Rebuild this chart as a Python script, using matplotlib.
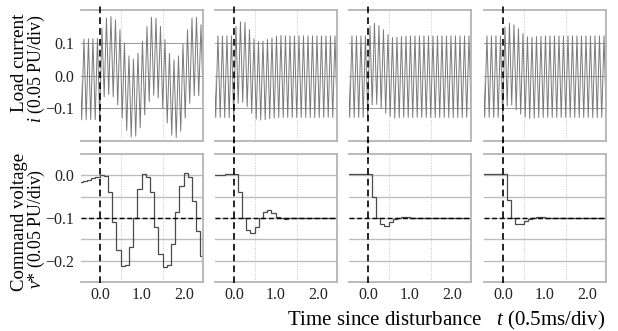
import numpy as np
import matplotlib
matplotlib.use("Agg")
import matplotlib.pyplot as plt

plt.rcParams['font.family'] = ['Liberation Serif', 'DejaVu Serif']
plt.rcParams['mathtext.fontset'] = 'custom'
plt.rcParams['mathtext.rm'] = 'Liberation Serif'
plt.rcParams['mathtext.it'] = 'Liberation Serif:italic'

# ---------------- data ----------------
# load-current waveform: successive positive peaks and negative troughs
wave_period = 0.107          # divisions per cycle
wave_t0 = -0.487             # time of first peak

peaks_1 = [0.112, 0.111, 0.112, 0.113, 0.113, 0.145, 0.175, 0.180, 0.170, 0.140,
           0.100, 0.060, 0.050, 0.068, 0.105, 0.150, 0.178, 0.175, 0.150, 0.110,
           0.068, 0.048, 0.060, 0.095, 0.140, 0.175, 0.178, 0.155]
troughs_1 = [-0.135, -0.135, -0.134, -0.135, -0.133, -0.065, -0.058, -0.065, -0.090, -0.130,
             -0.168, -0.188, -0.185, -0.160, -0.120, -0.080, -0.060, -0.068, -0.100, -0.145,
             -0.182, -0.190, -0.170, -0.130, -0.085, -0.062, -0.062, -0.085]

peaks_2 = [0.121, 0.121, 0.121, 0.121, 0.121, 0.150, 0.164, 0.162, 0.140, 0.112,
           0.104, 0.105, 0.110, 0.115, 0.120, 0.122, 0.121, 0.121, 0.121, 0.121,
           0.121, 0.121, 0.121, 0.121, 0.121, 0.121, 0.121, 0.121]
troughs_2 = [-0.128, -0.128, -0.128, -0.128, -0.128, -0.085, -0.082, -0.095, -0.115, -0.133,
             -0.136, -0.135, -0.132, -0.130, -0.128, -0.128, -0.128, -0.128, -0.128, -0.128,
             -0.128, -0.128, -0.128, -0.128, -0.128, -0.128, -0.128, -0.128]

peaks_3 = [0.121, 0.121, 0.121, 0.121, 0.121, 0.150, 0.160, 0.152, 0.140, 0.125,
           0.116, 0.117, 0.119, 0.120, 0.121, 0.121, 0.121, 0.121, 0.121, 0.121,
           0.121, 0.121, 0.121, 0.121, 0.121, 0.121, 0.121, 0.121]
troughs_3 = [-0.128, -0.128, -0.128, -0.128, -0.128, -0.090, -0.088, -0.100, -0.115, -0.125,
             -0.130, -0.129, -0.128, -0.128, -0.128, -0.128, -0.128, -0.128, -0.128, -0.128,
             -0.128, -0.128, -0.128, -0.128, -0.128, -0.128, -0.128, -0.128]

peaks_4 = [0.121, 0.121, 0.121, 0.121, 0.121, 0.148, 0.160, 0.155, 0.143, 0.128,
           0.118, 0.117, 0.119, 0.120, 0.121, 0.121, 0.121, 0.121, 0.121, 0.121,
           0.121, 0.121, 0.121, 0.121, 0.121, 0.121, 0.121, 0.121]
troughs_4 = [-0.128, -0.128, -0.128, -0.128, -0.128, -0.093, -0.090, -0.105, -0.118, -0.127,
             -0.131, -0.130, -0.128, -0.128, -0.128, -0.128, -0.128, -0.128, -0.128, -0.128,
             -0.128, -0.128, -0.128, -0.128, -0.128, -0.128, -0.128, -0.128]

# command voltage: one value per control period
ctrl_dt = 0.1
ctrl_t0 = -0.51

cmd_1 = [-0.015, -0.014, -0.011, -0.007, -0.003, 0.001, -0.001, -0.040, -0.109, -0.176,
         -0.212, -0.210, -0.167, -0.100, -0.033, 0.004, -0.004, -0.040, -0.122, -0.185,
         -0.214, -0.209, -0.162, -0.087, -0.025, 0.006, -0.003, -0.060, -0.131, -0.189]
cmd_2 = [0.000, 0.000, 0.001, 0.002, 0.002, 0.002, -0.038, -0.099, -0.127, -0.135,
         -0.122, -0.100, -0.085, -0.082, -0.089, -0.098, -0.101, -0.103, -0.101, -0.099,
         -0.100, -0.100, -0.100, -0.100, -0.100, -0.100, -0.100, -0.100, -0.100, -0.100]
cmd_3 = [0.002, 0.002, 0.002, 0.002, 0.002, 0.002, -0.051, -0.100, -0.115, -0.118,
         -0.109, -0.103, -0.099, -0.097, -0.097, -0.099, -0.100, -0.100, -0.100, -0.100,
         -0.100, -0.100, -0.100, -0.100, -0.100, -0.100, -0.100, -0.100, -0.100, -0.100]
cmd_4 = [0.002, 0.002, 0.002, 0.002, 0.002, 0.002, -0.057, -0.100, -0.115, -0.115,
         -0.107, -0.103, -0.100, -0.098, -0.098, -0.100, -0.100, -0.100, -0.100, -0.100,
         -0.100, -0.100, -0.100, -0.100, -0.100, -0.100, -0.100, -0.100, -0.100, -0.100]

current_ticks = [-0.1, 0.0, 0.1]
voltage_ticks = [-0.2, -0.1, 0.0]
time_ticks = [0.0, 1.0, 2.0]
voltage_ref = -0.1

top_label = ["Load current", "$i$ (0.05 PU/div)"]
bot_label = ["Command voltage", "$v$* (0.05 PU/div)"]
x_label = "Time since disturbance   $t$ (0.5ms/div)"

# ---------------- figure ----------------
fig = plt.figure(figsize=(6.18, 3.31), dpi=100)
W, H = 618.0, 331.0
col_left = [81, 215, 349, 484]
col_w = 122
top_y0, top_y1 = 10, 141
bot_y0, bot_y1 = 154, 282

spine_c = '#b4b4b4'

def style(ax):
    for s in ['top', 'right', 'bottom']:
        ax.spines[s].set_color(spine_c)
        ax.spines[s].set_linewidth(1.3)
    ax.spines['left'].set_visible(False)
    ax.tick_params(length=0, labelsize=11.5, colors='#222222')
    ax.tick_params(axis='y', pad=5)
    ax.tick_params(axis='x', pad=3.5)
    ax.set_xlim(-0.45, 2.45)
    ax.set_xticks(time_ticks)
    ax.set_xticks([0.5, 1.0, 1.5, 2.0], minor=True)
    ax.tick_params(which='minor', length=0)
    ax.grid(which='minor', axis='x', ls=':', color='#c4c4c4', lw=0.7)
    ax.set_axisbelow(True)

waves = [(peaks_1, troughs_1), (peaks_2, troughs_2), (peaks_3, troughs_3), (peaks_4, troughs_4)]
cmds = [cmd_1, cmd_2, cmd_3, cmd_4]

for i in range(4):
    l = col_left[i] / W
    w = col_w / W
    axt = fig.add_axes([l, 1 - top_y1 / H, w, (top_y1 - top_y0) / H])
    axb = fig.add_axes([l, 1 - bot_y1 / H, w, (bot_y1 - bot_y0) / H])
    style(axt)
    style(axb)

    # top: load current
    pk, tr = waves[i]
    n = len(pk)
    tp = wave_t0 + wave_period * np.arange(n)
    t = np.empty(2 * n)
    v = np.empty(2 * n)
    t[0::2] = tp
    t[1::2] = tp + wave_period / 2
    v[0::2] = pk
    v[1::2] = tr
    axt.plot(t, v, color='#7a7a7a', lw=0.7)
    axt.set_ylim(-0.2, 0.2)
    axt.set_yticks(current_ticks)
    axt.grid(which='major', axis='y', color='#9a9a9a', lw=0.7)
    axt.tick_params(axis='x', labelbottom=False)
    axt.axvline(0, ymin=-0.10, ymax=1.055, clip_on=False, color='black',
                lw=1.2, ls=(0, (4, 2.5)), zorder=5)

    # bottom: command voltage
    edges = ctrl_t0 + ctrl_dt * np.arange(len(cmds[i]) + 1)
    axb.stairs(cmds[i], edges, baseline=None, color='#4a4a4a', lw=0.9)
    axb.set_ylim(-0.25, 0.05)
    axb.set_yticks(voltage_ticks)
    axb.set_yticks([-0.15, -0.05], minor=True)
    axb.grid(which='both', axis='y', color='#bdbdbd', lw=1.0)
    axb.axhline(voltage_ref, color='black', lw=1.0, ls=(0, (3.5, 2)), zorder=5)
    axb.axvline(0, ymin=-0.01, ymax=1.11, clip_on=False, color='black',
                lw=1.2, ls=(0, (4, 2.5)), zorder=5)

    if i == 0:
        axt.set_yticklabels([f"{x:.1f}".replace('-', '\u2212') for x in current_ticks])
        axb.set_yticklabels([f"{x:.1f}".replace('-', '\u2212') for x in voltage_ticks])
    else:
        axt.tick_params(axis='y', labelleft=False)
        axb.tick_params(axis='y', labelleft=False)
    axb.set_xticklabels([f"{x:.1f}" for x in time_ticks])

# y labels (anchored on their baselines)
lab_kw = dict(rotation=90, rotation_mode='anchor', ha='center', va='baseline')
fig.text(24.5 / W, 1 - 63 / H, top_label[0], fontsize=13.8, **lab_kw)
fig.text(40.5 / W, 1 - 69 / H, top_label[1], fontsize=12.8, **lab_kw)
fig.text(24.5 / W, 1 - 222 / H, bot_label[0], fontsize=13.5, **lab_kw)
fig.text(40.5 / W, 1 - 229 / H, bot_label[1], fontsize=12.8, **lab_kw)

# x label
fig.text(605 / W, 1 - 320 / H, x_label, ha='right', va='center', fontsize=15)

fig.savefig("out.png", dpi=100)
